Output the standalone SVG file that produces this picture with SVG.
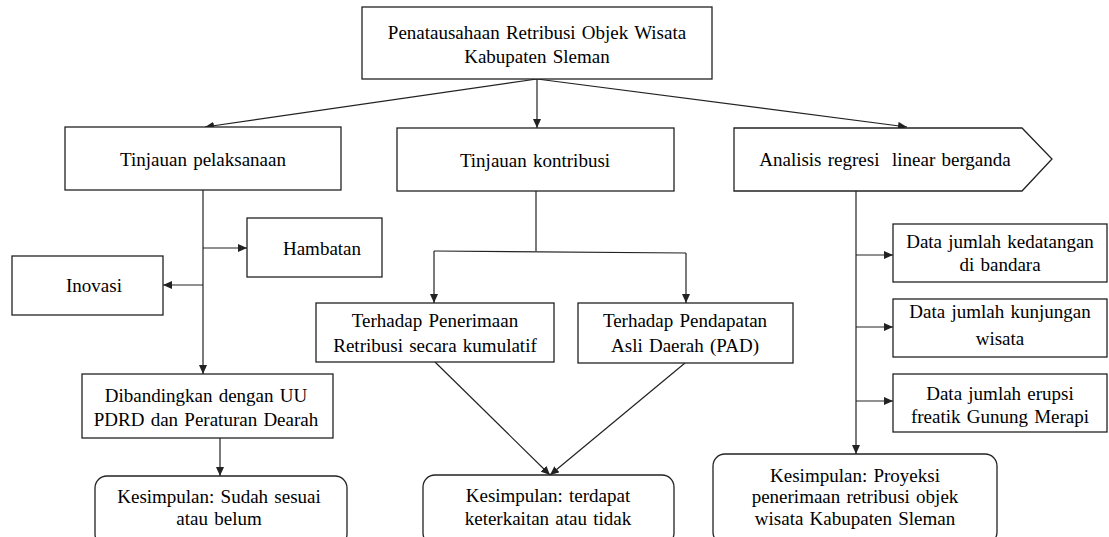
<svg xmlns="http://www.w3.org/2000/svg" width="1109" height="537" viewBox="0 0 1109 537">
<style>
.box{fill:#fff;stroke:#222;stroke-width:1.3}
.ln{fill:none;stroke:#222;stroke-width:1.2}
.t{font-family:'Liberation Serif', Tinos, 'Times New Roman', 'DejaVu Serif', serif;font-size:19px;fill:#000;text-anchor:middle;word-spacing:1.5px}
</style>
<defs>
<marker id="ah" markerUnits="userSpaceOnUse" markerWidth="9" markerHeight="8" refX="9" refY="4" orient="auto">
<path d="M0,0 L9,4 L0,8 z" fill="#222"/>
</marker>
</defs>
<rect width="1109" height="537" fill="#fff"/>
<g id="connectors">
<line class="ln" x1="537" y1="79" x2="205" y2="127" marker-end="url(#ah)"/>
<line class="ln" x1="537" y1="79" x2="537" y2="128" marker-end="url(#ah)"/>
<line class="ln" x1="537" y1="79" x2="907" y2="127" marker-end="url(#ah)"/>
<line class="ln" x1="203" y1="190" x2="203" y2="374" marker-end="url(#ah)"/>
<line class="ln" x1="203" y1="248" x2="247" y2="248" marker-end="url(#ah)"/>
<line class="ln" x1="203" y1="285" x2="163" y2="285" marker-end="url(#ah)"/>
<line class="ln" x1="220" y1="438" x2="220" y2="476" marker-end="url(#ah)"/>
<line class="ln" x1="536" y1="191" x2="536" y2="251"/>
<line class="ln" x1="434" y1="251" x2="686" y2="253"/>
<line class="ln" x1="434" y1="251" x2="434" y2="303" marker-end="url(#ah)"/>
<line class="ln" x1="686" y1="253" x2="686" y2="303" marker-end="url(#ah)"/>
<line class="ln" x1="435" y1="362" x2="550" y2="475" marker-end="url(#ah)"/>
<line class="ln" x1="685" y1="363" x2="550" y2="475" marker-end="url(#ah)"/>
<line class="ln" x1="856" y1="191" x2="856" y2="454" marker-end="url(#ah)"/>
<line class="ln" x1="856" y1="255" x2="893" y2="255" marker-end="url(#ah)"/>
<line class="ln" x1="856" y1="327" x2="893" y2="327" marker-end="url(#ah)"/>
<line class="ln" x1="856" y1="401" x2="893" y2="401" marker-end="url(#ah)"/>
</g>
<g id="top">
<rect class="box" x="362" y="7" width="350" height="72"/>
<text class="t" x="537" y="39">Penatausahaan Retribusi Objek Wisata</text>
<text class="t" x="537" y="63">Kabupaten Sleman</text>
</g>
<g id="pelaksanaan">
<rect class="box" x="65" y="127" width="276" height="63"/>
<text class="t" x="203" y="166">Tinjauan pelaksanaan</text>
</g>
<g id="kontribusi">
<rect class="box" x="397" y="128" width="277" height="63"/>
<text class="t" x="535" y="167">Tinjauan kontribusi</text>
</g>
<g id="analisis">
<path class="box" d="M734,128 H1022 L1052,159 L1022,191 H734 Z"/>
<text class="t" x="885" y="166" xml:space="preserve">Analisis regresi  linear berganda</text>
</g>
<g id="hambatan">
<rect class="box" x="247" y="218" width="135" height="59"/>
<text class="t" x="322" y="255">Hambatan</text>
</g>
<g id="inovasi">
<rect class="box" x="12" y="256" width="151" height="59"/>
<text class="t" x="94" y="292">Inovasi</text>
</g>
<g id="dibandingkan">
<rect class="box" x="82" y="374" width="251" height="64"/>
<text class="t" x="206" y="402">Dibandingkan dengan UU</text>
<text class="t" x="206" y="426">PDRD dan Peraturan Dearah</text>
</g>
<g id="kesimpulan1">
<rect class="box" x="95" y="476" width="252" height="70" rx="12"/>
<text class="t" x="219" y="503">Kesimpulan: Sudah sesuai</text>
<text class="t" x="219" y="525">atau belum</text>
</g>
<g id="penerimaan">
<rect class="box" x="316" y="303" width="238" height="59"/>
<text class="t" x="435" y="327">Terhadap Penerimaan</text>
<text class="t" x="435" y="352">Retribusi secara kumulatif</text>
</g>
<g id="pad">
<rect class="box" x="578" y="303" width="215" height="60"/>
<text class="t" x="685" y="327">Terhadap Pendapatan</text>
<text class="t" x="685" y="352">Asli Daerah (PAD)</text>
</g>
<g id="kesimpulan2">
<rect class="box" x="423" y="475" width="251" height="70" rx="12"/>
<text class="t" x="548" y="502">Kesimpulan: terdapat</text>
<text class="t" x="548" y="525">keterkaitan atau tidak</text>
</g>
<g id="data1">
<rect class="box" x="893" y="224" width="214" height="58"/>
<text class="t" x="1000" y="248">Data jumlah kedatangan</text>
<text class="t" x="1000" y="271">di bandara</text>
</g>
<g id="data2">
<rect class="box" x="893" y="299" width="214" height="58"/>
<text class="t" x="1000" y="318">Data jumlah kunjungan</text>
<text class="t" x="1000" y="345">wisata</text>
</g>
<g id="data3">
<rect class="box" x="893" y="374" width="214" height="58"/>
<text class="t" x="1000" y="400">Data jumlah erupsi</text>
<text class="t" x="1000" y="423">freatik Gunung Merapi</text>
</g>
<g id="kesimpulan3">
<rect class="box" x="713" y="454" width="284" height="90" rx="12"/>
<text class="t" x="855" y="482">Kesimpulan: Proyeksi</text>
<text class="t" x="855" y="503">penerimaan retribusi objek</text>
<text class="t" x="855" y="525">wisata Kabupaten Sleman</text>
</g>
</svg>
